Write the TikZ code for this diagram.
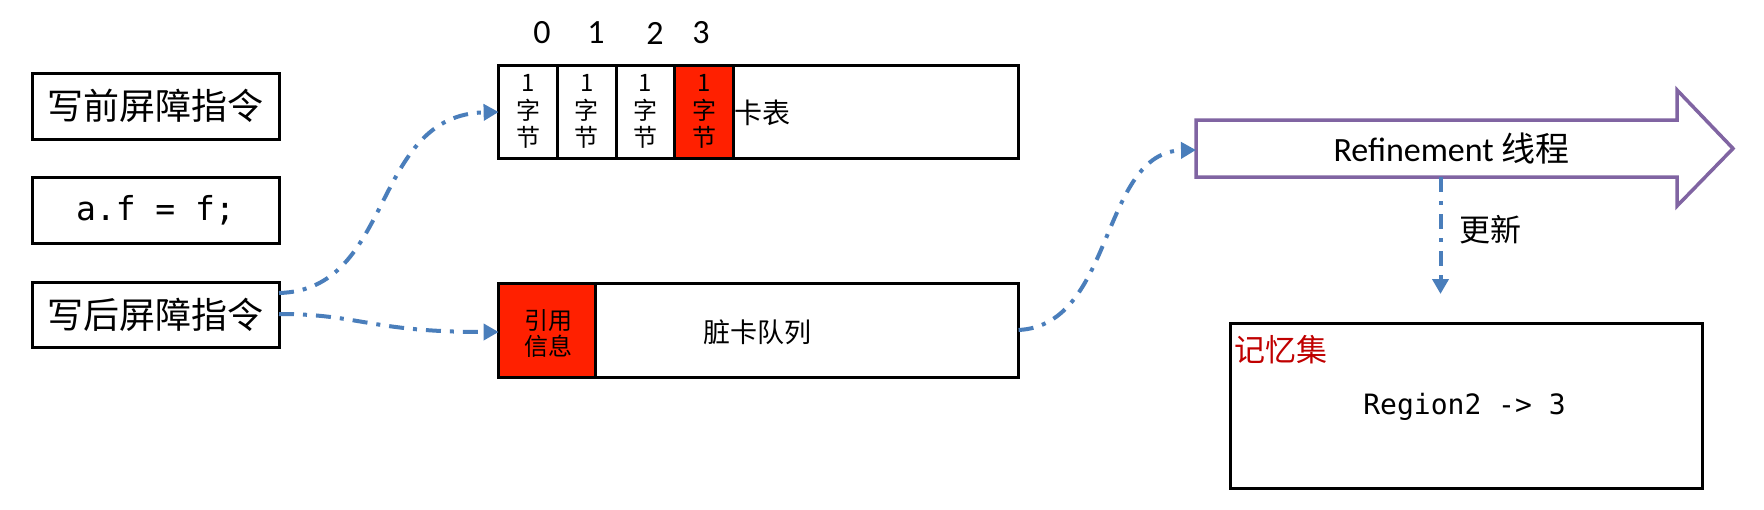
\documentclass[tikz,border=0pt]{standalone}
\usepackage{fontspec}
\setmainfont{Carlito}
\newfontfamily\cjk{Noto Sans CJK SC}
\newfontfamily\mono{DejaVu Sans Mono}
\usetikzlibrary{arrows.meta}
\definecolor{flowblue}{RGB}{74,126,187}
\definecolor{cellred}{RGB}{255,32,0}
\definecolor{thread}{RGB}{128,100,162}
\definecolor{darkred}{RGB}{192,0,0}
\tikzset{
  box/.style={draw=black, line width=3pt, inner sep=0pt, outer sep=0pt, fill=white},
  cellbox/.style={box, minimum width=58.75pt, minimum height=93pt, align=center,
    font=\cjk\fontsize{24}{27.5}\selectfont},
  flow/.style={draw=flowblue, line width=4pt,
    dash pattern=on 15pt off 9pt on 4pt off 9pt,
    -{Triangle[length=15pt,width=16pt]}},
  plain/.style={inner sep=0pt, outer sep=0pt}
}
\begin{document}
\begin{tikzpicture}[x=1pt,y=-1pt]
\path[use as bounding box, fill=white] (0,0) rectangle (1764,509);

% left boxes
\node[box, minimum width=247pt, minimum height=66pt, font=\cjk\fontsize{36}{40}\selectfont] (wpre) at (155.5,106) {写前屏障指令};
\node[box, minimum width=247pt, minimum height=66pt, font=\mono\fontsize{33}{36}\selectfont] (assign) at (155.5,210) {a.f = f;};
\node[box, minimum width=247pt, minimum height=65pt, font=\cjk\fontsize{36}{40}\selectfont] (wpost) at (155.5,314.5) {写后屏障指令};

% card table
\node[box, minimum width=520pt, minimum height=93pt] (ct) at (758.6,111.5) {};
\node[cellbox] (c0) at (528.0,111.5) {1\\字\\节};
\node[cellbox] (c1) at (586.7,111.5) {1\\字\\节};
\node[cellbox] (c2) at (645.5,111.5) {1\\字\\节};
\node[cellbox, fill=cellred] (c3) at (704.2,111.5) {1\\字\\节};
\node[plain, anchor=west, font=\cjk\fontsize{28}{30}\selectfont] (ctl) at (734,113) {卡表};
\node[plain, font=\fontsize{34}{36}\selectfont] (n0) at (542,33) {0};
\node[plain, font=\fontsize{34}{36}\selectfont] (n1) at (596,33) {1};
\node[plain, font=\fontsize{34}{36}\selectfont] (n2) at (655,33) {2};
\node[plain, font=\fontsize{34}{36}\selectfont] (n3) at (701,33) {3};

% dirty card queue
\node[box, minimum width=520pt, minimum height=94pt] (dq) at (758.6,330) {};
\node[box, fill=cellred, minimum width=96.4pt, minimum height=94pt] (ri) at (546.8,330) {};
\node[plain, align=center, font=\cjk\fontsize{24}{26}\selectfont] (rit) at (548,334) {引用\\信息};
\node[plain, font=\cjk\fontsize{27}{30}\selectfont] (dql) at (757,332) {脏卡队列};

% refinement thread arrow
\draw[draw=thread, line width=3.5pt, line join=miter, fill=white]
  (1196,120) -- (1677,120) -- (1677,90) -- (1733,148.5) -- (1677,206) -- (1677,177) -- (1196,177) -- cycle;
\node[plain, font=\fontsize{34}{38}\selectfont] (ref) at (1451.5,148.5) {Refinement {\cjk 线程}};
\coordinate (refin) at (1196,150);
\coordinate (refout) at (1440.5,177);
\coordinate (upd) at (1440.5,294);
\node[plain, anchor=west, font=\cjk\fontsize{31}{34}\selectfont] (updl) at (1459,230) {更新};

% remembered set
\node[box, minimum width=472pt, minimum height=165pt] (ms) at (1466,405.5) {};
\node[plain, anchor=west, text=darkred, font=\cjk\fontsize{31}{34}\selectfont] (msl) at (1234,350) {记忆集};
\node[plain, font=\mono\fontsize{28}{32}\selectfont] (mst) at (1464.5,407) {Region2 -> 3};

% connectors
\draw[flow] (wpost.east |- 0,293) .. controls (395,290) and (370,115) .. (c0.west |- 0,112);
\draw[flow] (wpost.east |- 0,314) .. controls (360,314) and (370,332) .. (dq.west |- 0,332);
\draw[flow] (dq.east |- 0,330) .. controls (1115,325) and (1100,152) .. (refin);
\draw[flow] (refout) -- (upd);
\end{tikzpicture}
\end{document}
